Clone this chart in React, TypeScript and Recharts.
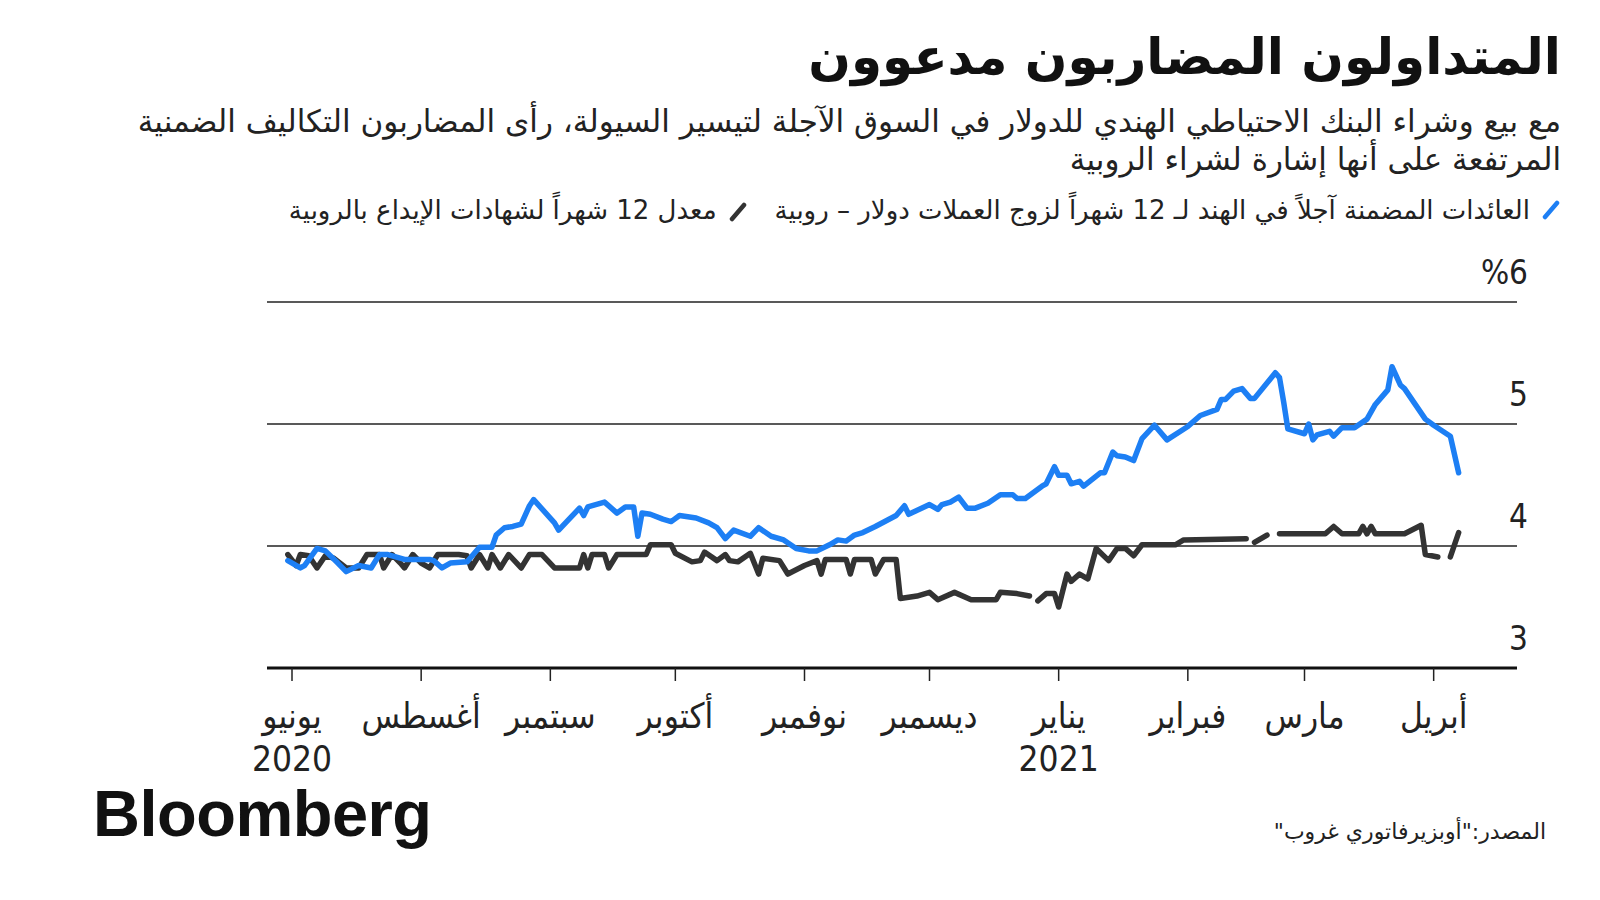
import React from 'react';
import { LineChart, Line, XAxis, YAxis, CartesianGrid } from 'recharts';

// ---------- DATA ----------
const fwdDates = [
  '2020-06-30', '2020-07-03', '2020-07-04', '2020-07-07', '2020-07-09', '2020-07-12', '2020-07-14', '2020-07-17',
  '2020-07-20', '2020-07-22', '2020-07-24', '2020-07-28', '2020-08-03', '2020-08-04', '2020-08-06', '2020-08-08',
  '2020-08-12', '2020-08-13', '2020-08-15', '2020-08-18', '2020-08-19', '2020-08-21', '2020-08-23', '2020-08-25',
  '2020-08-27', '2020-08-28', '2020-09-02', '2020-09-03', '2020-09-08', '2020-09-09', '2020-09-10', '2020-09-14',
  '2020-09-17', '2020-09-19', '2020-09-21', '2020-09-22', '2020-09-23', '2020-09-25', '2020-09-28', '2020-09-30',
  '2020-10-02', '2020-10-06', '2020-10-09', '2020-10-11', '2020-10-13', '2020-10-15', '2020-10-19', '2020-10-21',
  '2020-10-24', '2020-10-27', '2020-10-30', '2020-11-02', '2020-11-04', '2020-11-07', '2020-11-09', '2020-11-11',
  '2020-11-13', '2020-11-15', '2020-11-18', '2020-11-23', '2020-11-25', '2020-11-26', '2020-12-01', '2020-12-03',
  '2020-12-04', '2020-12-06', '2020-12-08', '2020-12-10', '2020-12-12', '2020-12-15', '2020-12-18', '2020-12-21',
  '2020-12-22', '2020-12-24', '2020-12-28', '2020-12-29', '2020-12-31', '2021-01-01', '2021-01-03', '2021-01-04',
  '2021-01-06', '2021-01-07', '2021-01-11', '2021-01-12', '2021-01-14', '2021-01-15', '2021-01-17', '2021-01-19',
  '2021-01-21', '2021-01-24', '2021-01-27', '2021-02-01', '2021-02-04', '2021-02-08', '2021-02-09', '2021-02-10',
  '2021-02-12', '2021-02-14', '2021-02-16', '2021-02-17', '2021-02-22', '2021-02-23', '2021-02-24', '2021-02-25',
  '2021-03-01', '2021-03-02', '2021-03-03', '2021-03-04', '2021-03-07', '2021-03-08', '2021-03-10', '2021-03-13',
  '2021-03-16', '2021-03-18', '2021-03-21', '2021-03-22', '2021-03-24', '2021-03-25', '2021-03-30', '2021-04-01',
  '2021-04-05', '2021-04-07',
];
const fwdYield = [
  3.88, 3.82, 3.84, 3.98, 3.96, 3.86, 3.79, 3.84,
  3.82, 3.93, 3.93, 3.89, 3.89, 3.88, 3.82, 3.86,
  3.87, 3.91, 3.99, 3.99, 4.09, 4.15, 4.16, 4.18,
  4.33, 4.38, 4.19, 4.13, 4.31, 4.25, 4.32, 4.36,
  4.27, 4.32, 4.32, 4.08, 4.27, 4.26, 4.22, 4.20,
  4.25, 4.23, 4.19, 4.15, 4.06, 4.13, 4.08, 4.15,
  4.08, 4.05, 3.98, 3.96, 3.96, 4.01, 4.05, 4.04,
  4.09, 4.11, 4.16, 4.25, 4.33, 4.26, 4.34, 4.30,
  4.34, 4.36, 4.40, 4.31, 4.31, 4.35, 4.42, 4.42,
  4.39, 4.39, 4.49, 4.51, 4.65, 4.58, 4.58, 4.51,
  4.53, 4.49, 4.60, 4.60, 4.77, 4.74, 4.73, 4.70,
  4.88, 4.99, 4.87, 4.98, 5.07, 5.12, 5.20, 5.20,
  5.27, 5.29, 5.21, 5.21, 5.42, 5.38, 5.18, 4.96,
  4.92, 5.00, 4.87, 4.91, 4.94, 4.90, 4.97, 4.97,
  5.04, 5.16, 5.28, 5.47, 5.32, 5.29, 5.04, 4.99,
  4.90, 4.60,
];

const cdDates = [
  '2020-06-30', '2020-07-02', '2020-07-03', '2020-07-05', '2020-07-07', '2020-07-09', '2020-07-11', '2020-07-14',
  '2020-07-17', '2020-07-19', '2020-07-22', '2020-07-23', '2020-07-25', '2020-07-27', '2020-07-28', '2020-07-30',
  '2020-08-01', '2020-08-03', '2020-08-05', '2020-08-10', '2020-08-12', '2020-08-13', '2020-08-15', '2020-08-17',
  '2020-08-18', '2020-08-20', '2020-08-22', '2020-08-25', '2020-08-27', '2020-08-30', '2020-09-02', '2020-09-08',
  '2020-09-09', '2020-09-10', '2020-09-11', '2020-09-14', '2020-09-15', '2020-09-17', '2020-09-24', '2020-09-25',
  '2020-09-30', '2020-10-01', '2020-10-05', '2020-10-07', '2020-10-08', '2020-10-11', '2020-10-13', '2020-10-14',
  '2020-10-16', '2020-10-19', '2020-10-21', '2020-10-22', '2020-10-26', '2020-10-28', '2020-11-01', '2020-11-04',
  '2020-11-05', '2020-11-06', '2020-11-11', '2020-11-12', '2020-11-13', '2020-11-17', '2020-11-18', '2020-11-20',
  '2020-11-23', '2020-11-24', '2020-11-28', '2020-11-30', '2020-12-01', '2020-12-03', '2020-12-07', '2020-12-11',
  '2020-12-17', '2020-12-18', '2020-12-22', '2020-12-25', '2020-12-26', '2020-12-27', '2020-12-29', '2020-12-31',
  '2021-01-01', '2021-01-03', '2021-01-04', '2021-01-06', '2021-01-08', '2021-01-10', '2021-01-13', '2021-01-15',
  '2021-01-17', '2021-01-19', '2021-01-21', '2021-01-29', '2021-01-31', '2021-02-15', '2021-02-16', '2021-02-17',
  '2021-02-20', '2021-02-21', '2021-02-23', '2021-03-06', '2021-03-08', '2021-03-10', '2021-03-14', '2021-03-15',
  '2021-03-16', '2021-03-17', '2021-03-18', '2021-03-25', '2021-03-29', '2021-03-30', '2021-04-02', '2021-04-03',
  '2021-04-05', '2021-04-07',
];
const cdRate: (number | null)[] = [
  3.93, 3.84, 3.93, 3.92, 3.82, 3.92, 3.90, 3.82,
  3.82, 3.93, 3.93, 3.82, 3.93, 3.86, 3.82, 3.93,
  3.86, 3.82, 3.93, 3.93, 3.92, 3.82, 3.93, 3.82,
  3.93, 3.82, 3.93, 3.82, 3.93, 3.93, 3.82, 3.82,
  3.93, 3.82, 3.93, 3.93, 3.82, 3.93, 3.93, 4.01,
  4.01, 3.94, 3.87, 3.88, 3.95, 3.88, 3.93, 3.88,
  3.87, 3.94, 3.77, 3.90, 3.88, 3.77, 3.84, 3.88,
  3.77, 3.89, 3.89, 3.77, 3.89, 3.89, 3.77, 3.89,
  3.89, 3.57, 3.59, 3.61, 3.62, 3.56, 3.62, 3.56,
  3.56, 3.62, 3.61, 3.59, null, 3.55, 3.61, 3.61,
  3.50, 3.77, 3.71, 3.77, 3.73, 3.98, 3.88, 3.98,
  3.98, 3.92, 4.01, 4.01, 4.05, 4.06, null, 4.03,
  4.09, null, 4.10, 4.10, 4.16, 4.10, 4.10, 4.16,
  4.10, 4.16, 4.10, 4.10, 4.17, 3.93, 3.91, null,
  3.91, 4.11,
];

const monthTickDates = [
  '2020-07-01', '2020-08-01', '2020-09-01', '2020-10-01', '2020-11-01',
  '2020-12-01', '2021-01-01', '2021-02-01', '2021-03-01', '2021-04-01',
];
const monthLabels = ['يونيو', 'أغسطس', 'سبتمبر', 'أكتوبر', 'نوفمبر', 'ديسمبر', 'يناير', 'فبراير', 'مارس', 'أبريل'];
const yearLabels = ['2020', '', '', '', '', '', '2021', '', '', ''];
const xDomainDates = ['2020-06-25', '2021-04-21'];

const yTicks = [3, 4, 5, 6];
const yTickLabels = ['3', '4', '5', '%6'];

const titleText = 'المتداولون المضاربون مدعوون';
const subtitleLines = [
  'مع بيع وشراء البنك الاحتياطي الهندي للدولار في السوق الآجلة لتيسير السيولة، رأى المضاربون التكاليف الضمنية',
  'المرتفعة على أنها إشارة لشراء الروبية',
];
const legendLabels = [
  'العائدات المضمنة آجلاً في الهند لـ 12 شهراً لزوج العملات دولار – روبية',
  'معدل 12 شهراً لشهادات الإيداع بالروبية',
];
const sourceText = 'المصدر:"أوبزيرفاتوري غروب"';

// ---------- HELPERS ----------
const BLUE = '#1d7ff4';
const DARK = '#333333';
const ORIGIN = Date.UTC(2020, 6, 1);
const toDay = (s: string) => {
  const [y, m, d] = s.split('-').map(Number);
  return (Date.UTC(y, m - 1, d) - ORIGIN) / 86400000;
};

const fwdData = fwdDates.map((d, i) => ({ t: toDay(d), v: fwdYield[i] }));
const cdData = cdDates.map((d, i) => ({ t: toDay(d), v: cdRate[i] }));
const monthTicks = monthTickDates.map(toDay);

const FONT = "'DejaVu Sans', sans-serif";
const NUMFONT = "'DejaVu Sans Condensed', 'DejaVu Sans', sans-serif";

const XTick = (props: any) => {
  const { x, y, payload } = props;
  const idx = monthTicks.indexOf(payload.value);
  return (
    <g>
      <text x={x} y={y + 47} textAnchor="middle" fontFamily={NUMFONT} fontSize={35} fill="#222">
        {monthLabels[idx]}
      </text>
      {yearLabels[idx] ? (
        <text x={x} y={y + 90} textAnchor="middle" fontFamily={NUMFONT} fontSize={35} fill="#222">
          {yearLabels[idx]}
        </text>
      ) : null}
    </g>
  );
};

const YTick = (props: any) => {
  const { y, payload } = props;
  const idx = yTicks.indexOf(payload.value);
  return (
    <text x={1528} y={y - 18} textAnchor="end" fontFamily={NUMFONT} fontSize={33} fill="#222">
      {yTickLabels[idx]}
    </text>
  );
};

const Slash = ({ color }: { color: string }) => (
  <svg width={18} height={20} style={{ display: 'inline-block', verticalAlign: 'middle' }}>
    <line x1={3} y1={17} x2={15} y2={3} stroke={color} strokeWidth={4.5} strokeLinecap="round" />
  </svg>
);

export default function App() {
  return (
    <div style={{ position: 'absolute', left: 0, top: 0, width: 1600, height: 900, background: '#fff', overflow: 'hidden' }}>
      <div
        dir="rtl"
        style={{
          position: 'absolute', right: 39, top: 22, fontFamily: FONT, fontWeight: 'bold',
          fontSize: 50, lineHeight: '70px', color: '#111', whiteSpace: 'nowrap',
        }}
      >
        {titleText}
      </div>
      {subtitleLines.map((s, i) => (
        <div
          key={i}
          dir="rtl"
          style={{
            position: 'absolute', right: 39, top: 101 + i * 38, fontFamily: FONT,
            fontSize: 31, lineHeight: '40px', color: '#222', whiteSpace: 'nowrap',
          }}
        >
          {s}
        </div>
      ))}
      <div
        dir="rtl"
        style={{
          position: 'absolute', right: 40, top: 193, fontFamily: FONT, fontSize: 26,
          lineHeight: '34px', color: '#222', whiteSpace: 'nowrap', display: 'flex', alignItems: 'center',
        }}
      >
        <Slash color={BLUE} />
        <span style={{ marginRight: 12 }}>{legendLabels[0]}</span>
        <span style={{ marginRight: 28 }}><Slash color={DARK} /></span>
        <span style={{ marginRight: 12 }}>{legendLabels[1]}</span>
      </div>

      <div style={{ position: 'absolute', left: 0, top: 0 }}>
        <LineChart width={1600} height={900} margin={{ top: 302, right: 63, bottom: 172, left: 267 }}>
          <CartesianGrid horizontal vertical={false} stroke="#222" strokeWidth={1.5} />
          <XAxis
            dataKey="t"
            type="number"
            domain={xDomainDates.map(toDay)}
            allowDataOverflow
            ticks={monthTicks}
            interval={0}
            height={60}
            tickSize={13}
            tickMargin={0}
            axisLine={{ stroke: '#111', strokeWidth: 3 }}
            tickLine={{ stroke: '#222', strokeWidth: 1.5 }}
            tick={<XTick />}
          />
          <YAxis
            orientation="right"
            type="number"
            domain={[3, 6]}
            ticks={yTicks}
            width={20}
            axisLine={false}
            tickLine={false}
            tick={<YTick />}
            allowDataOverflow
          />
          <Line
            data={cdData}
            dataKey="v"
            type="linear"
            stroke={DARK}
            strokeWidth={5.5}
            dot={false}
            connectNulls={false}
            strokeLinejoin="round"
            strokeLinecap="round"
            isAnimationActive={false}
          />
          <Line
            data={fwdData}
            dataKey="v"
            type="linear"
            stroke={BLUE}
            strokeWidth={5.5}
            dot={false}
            strokeLinejoin="round"
            strokeLinecap="round"
            isAnimationActive={false}
          />
        </LineChart>
      </div>

      <div
        style={{
          position: 'absolute', left: 93, top: 774, fontFamily: "'Liberation Sans', Arial, sans-serif",
          fontWeight: 'bold', fontSize: 65, letterSpacing: -0.5, lineHeight: '80px', color: '#111',
        }}
      >
        Bloomberg
      </div>
      <div
        dir="rtl"
        style={{
          position: 'absolute', right: 54, top: 817, fontFamily: FONT, fontSize: 22,
          lineHeight: '30px', color: '#222', whiteSpace: 'nowrap',
        }}
      >
        {sourceText}
      </div>
    </div>
  );
}
